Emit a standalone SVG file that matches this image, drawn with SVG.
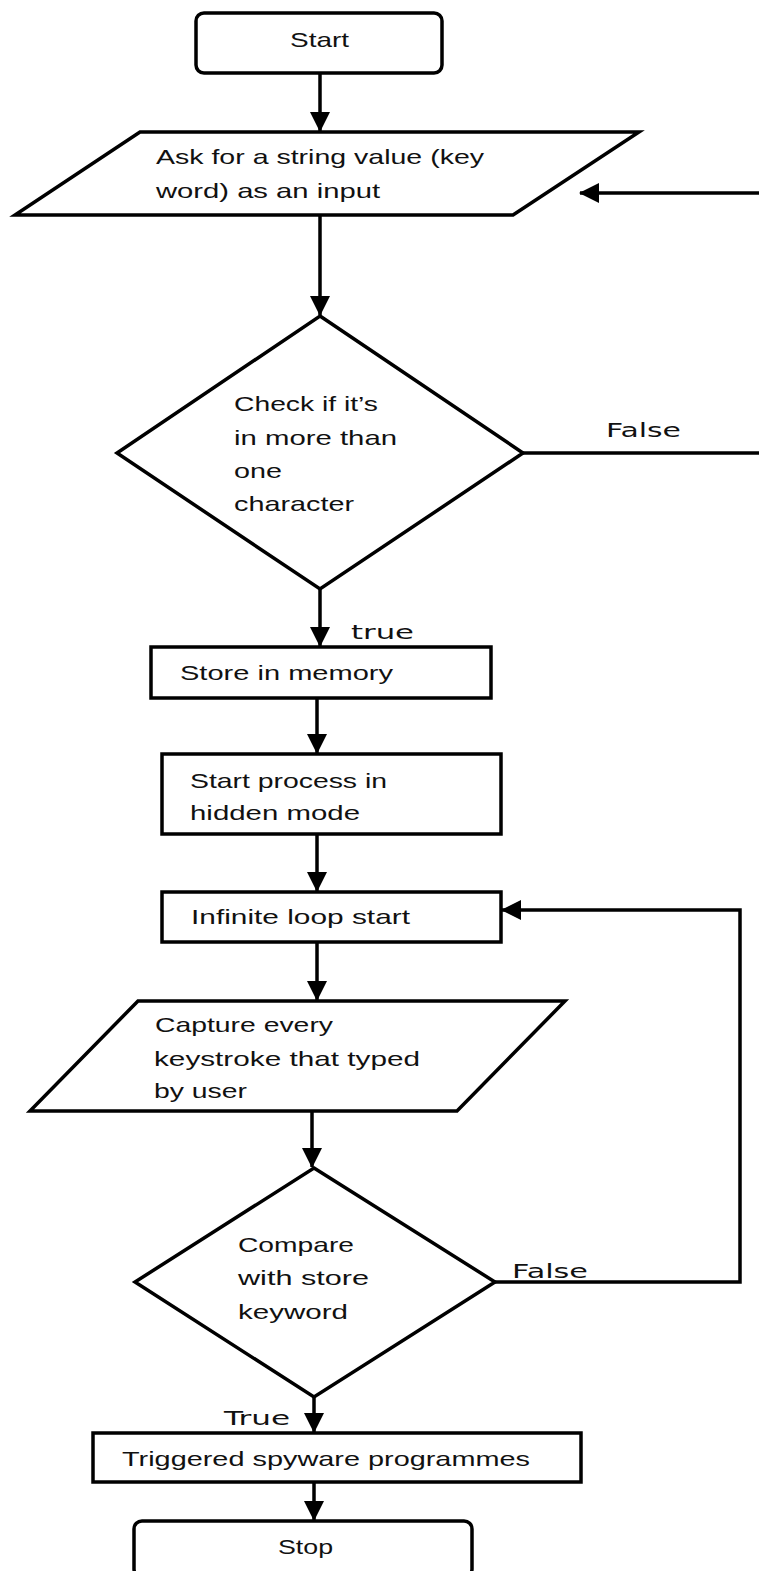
<svg xmlns="http://www.w3.org/2000/svg" width="759" height="1571" viewBox="0 0 759 1571">
<style>
.s{fill:#fff;stroke:#000;stroke-width:3.5;stroke-linejoin:miter}
.t{font-family:"Liberation Sans",Arial,sans-serif;font-size:21px;fill:#111}
.l{font-family:"DejaVu Sans","Liberation Sans",sans-serif;font-size:20px;fill:#111}
.c{fill:none;stroke:#000;stroke-width:3.5}
</style>
<defs>
<marker id="ah" markerUnits="userSpaceOnUse" markerWidth="20" markerHeight="20" viewBox="0 0 20 20" refX="19" refY="10" orient="auto">
<path d="M0,0 L20,10 L0,20 z" fill="#000"/>
</marker>
</defs>
<rect width="759" height="1571" fill="#fff"/>
<g id="connectors">
<line class="c" x1="320" y1="73" x2="320" y2="131" marker-end="url(#ah)"/>
<line class="c" x1="759" y1="193" x2="580" y2="193" marker-end="url(#ah)"/>
<line class="c" x1="320" y1="215" x2="320" y2="315" marker-end="url(#ah)"/>
<line class="c" x1="523" y1="453" x2="759" y2="453"/>
<line class="c" x1="320" y1="589" x2="320" y2="646" marker-end="url(#ah)"/>
<line class="c" x1="317" y1="698" x2="317" y2="753" marker-end="url(#ah)"/>
<line class="c" x1="317" y1="834" x2="317" y2="891" marker-end="url(#ah)"/>
<line class="c" x1="317" y1="942" x2="317" y2="1000" marker-end="url(#ah)"/>
<line class="c" x1="312" y1="1111" x2="312" y2="1167" marker-end="url(#ah)"/>
<polyline class="c" points="495,1282 740,1282 740,910 502,910" marker-end="url(#ah)"/>
<line class="c" x1="314" y1="1397" x2="314" y2="1432" marker-end="url(#ah)"/>
<line class="c" x1="314" y1="1482" x2="314" y2="1520" marker-end="url(#ah)"/>
<text class="l" x="606" y="437" textLength="75" lengthAdjust="spacingAndGlyphs">False</text>
<text class="l" x="351" y="639" textLength="63" lengthAdjust="spacingAndGlyphs">true</text>
<text class="l" x="512" y="1278" textLength="76" lengthAdjust="spacingAndGlyphs">False</text>
<text class="l" x="224" y="1425" textLength="66" lengthAdjust="spacingAndGlyphs">True</text>
</g>
<g id="start">
<rect class="s" x="196" y="13" width="246" height="60" rx="8"/>
<text class="t" x="290" y="47" textLength="59" lengthAdjust="spacingAndGlyphs">Start</text>
</g>
<g id="input">
<polygon class="s" points="140,132 639,132 513,215 15,215"/>
<text class="t" x="156" y="164" textLength="328" lengthAdjust="spacingAndGlyphs">Ask for a string value (key</text>
<text class="t" x="156" y="198" textLength="224" lengthAdjust="spacingAndGlyphs">word) as an input</text>
</g>
<g id="check">
<polygon class="s" points="320,316 523,453 320,589 117,453"/>
<text class="t" x="234" y="411" textLength="144" lengthAdjust="spacingAndGlyphs">Check if it’s</text>
<text class="t" x="234" y="445" textLength="163" lengthAdjust="spacingAndGlyphs">in more than</text>
<text class="t" x="234" y="478" textLength="48" lengthAdjust="spacingAndGlyphs">one</text>
<text class="t" x="234" y="511" textLength="120" lengthAdjust="spacingAndGlyphs">character</text>
</g>
<g id="store">
<rect class="s" x="151" y="647" width="340" height="51"/>
<text class="t" x="180" y="680" textLength="213" lengthAdjust="spacingAndGlyphs">Store in memory</text>
</g>
<g id="hidden">
<rect class="s" x="162" y="754" width="339" height="80"/>
<text class="t" x="190" y="788" textLength="197" lengthAdjust="spacingAndGlyphs">Start process in</text>
<text class="t" x="190" y="820" textLength="170" lengthAdjust="spacingAndGlyphs">hidden mode</text>
</g>
<g id="loop">
<rect class="s" x="162" y="892" width="339" height="50"/>
<text class="t" x="191" y="924" textLength="219" lengthAdjust="spacingAndGlyphs">Infinite loop start</text>
</g>
<g id="capture">
<polygon class="s" points="138,1001 565,1001 457,1111 30,1111"/>
<text class="t" x="155" y="1032" textLength="178" lengthAdjust="spacingAndGlyphs">Capture every</text>
<text class="t" x="154" y="1066" textLength="266" lengthAdjust="spacingAndGlyphs">keystroke that typed</text>
<text class="t" x="154" y="1098" textLength="93" lengthAdjust="spacingAndGlyphs">by user</text>
</g>
<g id="compare">
<polygon class="s" points="314,1168 495,1282 314,1397 135,1282"/>
<text class="t" x="238" y="1252" textLength="116" lengthAdjust="spacingAndGlyphs">Compare</text>
<text class="t" x="238" y="1285" textLength="131" lengthAdjust="spacingAndGlyphs">with store</text>
<text class="t" x="238" y="1319" textLength="110" lengthAdjust="spacingAndGlyphs">keyword</text>
</g>
<g id="triggered">
<rect class="s" x="93" y="1433" width="488" height="49"/>
<text class="t" x="122" y="1466" textLength="408" lengthAdjust="spacingAndGlyphs">Triggered spyware programmes</text>
</g>
<g id="stop">
<rect class="s" x="134" y="1521" width="338" height="56" rx="8"/>
<text class="t" x="278" y="1554" textLength="55" lengthAdjust="spacingAndGlyphs">Stop</text>
</g>
</svg>
